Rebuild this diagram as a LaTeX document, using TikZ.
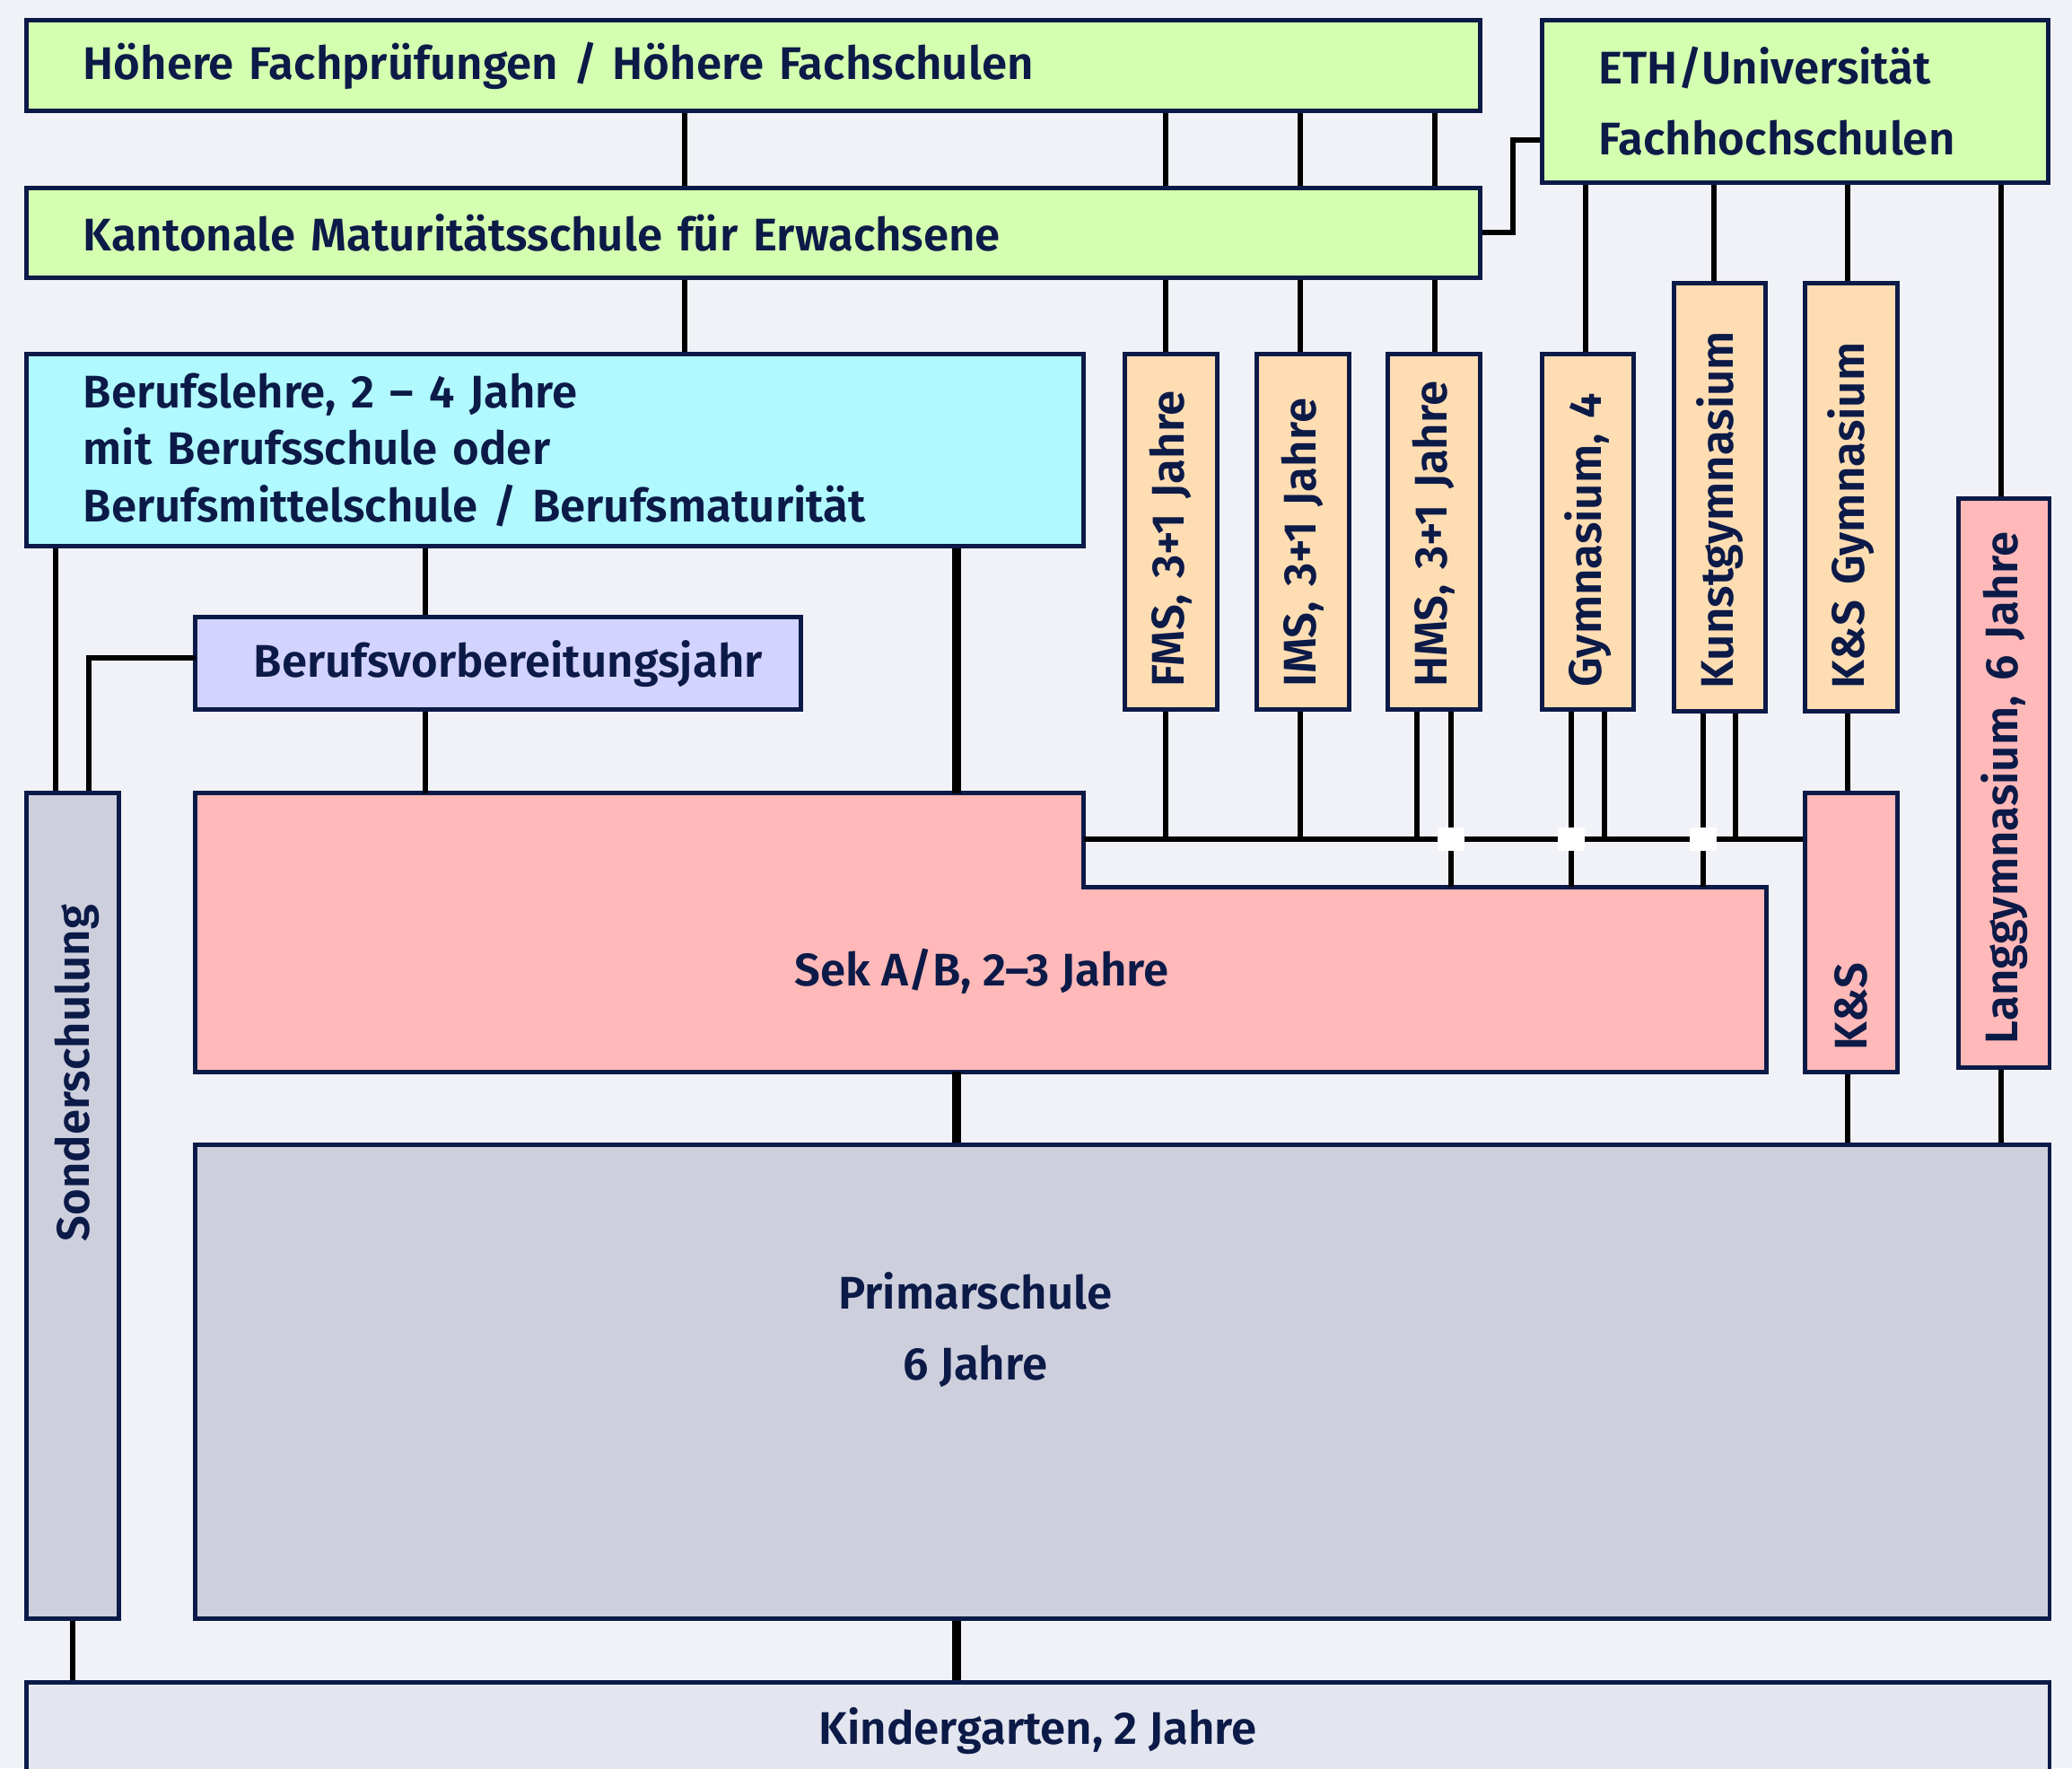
\documentclass[tikz,border=0pt]{standalone}
\usepackage{fontspec}
\setmainfont{Fira Sans SemiBold}
\newlength\pu
\setlength\pu{0.014726cm}
\definecolor{navy}{HTML}{0C1A48}
\definecolor{bgc}{HTML}{F1F2F7}
\definecolor{greenc}{HTML}{D5FFB0}
\definecolor{cyanc}{HTML}{B0F9FF}
\definecolor{lavc}{HTML}{D3D3FF}
\definecolor{peachc}{HTML}{FFDDB2}
\definecolor{pinkc}{HTML}{FFB9B8}
\definecolor{grayc}{HTML}{CDCFDC}
\definecolor{kgc}{HTML}{E3E6EF}
\begin{document}
\begin{tikzpicture}[x=\pu, y=-\pu,
	box/.style={draw=navy, line width=1.4pt, text=navy, inner ysep=0pt, font=\fontsize{14.5}{18}\selectfont},
	sz/.style 2 args={minimum width=#1\pu, minimum height=#2\pu},
	lbox/.style={box, align=left, inner xsep=43\pu},
	vbox/.style={box, rotate=90, align=left, inner xsep=17\pu},
	txt/.style={text=navy, inner sep=0pt, font=\fontsize{14.5}{22.5}\selectfont},
	ln/.style={line width=1.7pt, black},
	thk/.style={line width=2.8pt, black}]
	\useasboundingbox (0,0) rectangle (1568,1338);
	\fill[bgc] (0,0) rectangle (1568,1338);

	\node[lbox, fill=greenc, text width=1014\pu, minimum height=69\pu] (hfs) at (570,49.5) {Höhere Fachprüfungen / Höhere Fachschulen};
	\node[lbox, fill=greenc, text width=297\pu, minimum height=123\pu, font=\fontsize{14.5}{22.5}\selectfont] (eth) at (1358.5,76.5) {ETH/Universität\\Fachhochschulen};
	\node[lbox, fill=greenc, text width=1014\pu, minimum height=68\pu] (kms) at (570,176) {Kantonale Maturitätsschule für Erwachsene};
	\node[lbox, fill=cyanc, text width=714\pu, minimum height=145\pu] (bl) at (420,340.5) {Berufslehre, 2 – 4 Jahre\\mit Berufsschule oder\\Berufsmittelschule / Berufsmaturität};
	\node[box, fill=lavc, align=left, inner xsep=0pt, text width=458\pu, minimum height=70\pu] (bvj) at (377,502) {\hspace*{44\pu}Berufsvorbereitungsjahr};

	\node[vbox, fill=peachc, text width=235\pu, minimum height=70\pu] (fms) at (886,402.5) {FMS, 3+1 Jahre};
	\node[vbox, fill=peachc, text width=235\pu, minimum height=70\pu] (ims) at (986,402.5) {IMS, 3+1 Jahre};
	\node[vbox, fill=peachc, text width=235\pu, minimum height=70\pu] (hms) at (1085,402.5) {HMS, 3+1 Jahre};
	\node[vbox, fill=peachc, text width=235\pu, minimum height=69\pu] (gym) at (1201.5,402.5) {Gymnasium, 4};
	\node[vbox, fill=peachc, text width=290\pu, minimum height=69\pu] (kunst) at (1301.5,376) {Kunstgymnasium};
	\node[vbox, fill=peachc, text width=290\pu, minimum height=70\pu] (ksg) at (1401,376) {K\&S Gymnasium};
	\node[vbox, fill=pinkc, text width=179\pu, minimum height=70\pu, inner xsep=16\pu] (ks) at (1401,705.5) {K\&S};
	\node[vbox, fill=pinkc, text width=395\pu, minimum height=69\pu, inner xsep=18\pu] (lang) at (1516.5,592.5) {Langgymnasium, 6 Jahre};

	\node[box, fill=grayc, sz={70}{625}] (son) at (55,912.5) {};
	\node[txt, rotate=90] (sontxt) at (58,812) {Sonderschulung};

	\coordinate (sekA) at (148,600);
	\coordinate (sekB) at (820,600);
	\coordinate (sekC) at (820,671);
	\coordinate (sekD) at (1337,671);
	\coordinate (sekE) at (1337,811);
	\coordinate (sekF) at (148,811);
	\draw[draw=navy, line width=1.4pt, fill=pinkc] (sekA) -- (sekB) -- (sekC) -- (sekD) -- (sekE) -- (sekF) -- cycle;
	\node[txt] (sektxt) at (743,735) {Sek A/B, 2–3 Jahre};

	\node[box, fill=grayc, sz={1403}{359}] (prim) at (849.5,1045.5) {};
	\node[txt, align=center] (primtxt) at (738,1006) {Primarschule\\6 Jahre};
	\node[box, fill=kgc, sz={1531}{74}] (kg) at (785.5,1310) {Kindergarten, 2 Jahre};

	\foreach \x in {518,882,984,1086}
		\draw[ln] (hfs.south -| \x,0) -- (kms.north -| \x,0);
	\draw[ln] (kms.south -| 518,0) -- (bl.north -| 518,0);
	\foreach \x/\n in {882/fms,984/ims,1086/hms}
		\draw[ln] (kms.south -| \x,0) -- (\n.east -| \x,0);
	\coordinate (ethin) at (1145,106);
	\draw[ln] (kms.east) -| (ethin) -- (ethin -| eth.west);
	\foreach \x/\n in {1200/gym,1297/kunst,1398/ksg,1514/lang}
		\draw[ln] (eth.south -| \x,0) -- (\n.east -| \x,0);

	\draw[ln] (bl.south -| 42,0) -- (son.north -| 42,0);
	\draw[ln] (bl.south -| 322,0) -- (bvj.north -| 322,0);
	\draw[thk] (bl.south -| 724,0) -- (sekA -| 724,0);
	\coordinate (bvjout) at (148,498);
	\draw[ln] (bvjout) -| (son.north -| 67,0);
	\draw[ln] (bvj.south -| 322,0) -- (sekA -| 322,0);

	\coordinate (notch) at (820,635);
	\draw[ln] (notch) -- (notch -| ks.north);
	\foreach \x/\n in {882/fms,984/ims,1072/hms,1214/gym,1313/kunst}
		\draw[ln] (\n.west -| \x,0) -- (notch -| \x,0);
	\foreach \x/\n in {1098/hms,1189/gym,1289/kunst}
		\draw[ln] (\n.west -| \x,0) -- (sekC -| \x,0);
	\foreach \x in {1098,1189,1289}
		\fill[white] (\x-10,626) rectangle (\x+10,644);

	\draw[ln] (ksg.west -| 1398,0) -- (ks.east -| 1398,0);
	\draw[ln] (ks.west -| 1398,0) -- (prim.north -| 1398,0);
	\draw[ln] (lang.west -| 1514,0) -- (prim.north -| 1514,0);
	\draw[thk] (sekF -| 724,0) -- (prim.north -| 724,0);
	\draw[thk] (prim.south -| 724,0) -- (kg.north -| 724,0);
	\draw[ln] (son.south -| 55,0) -- (kg.north -| 55,0);
\end{tikzpicture}
\end{document}
